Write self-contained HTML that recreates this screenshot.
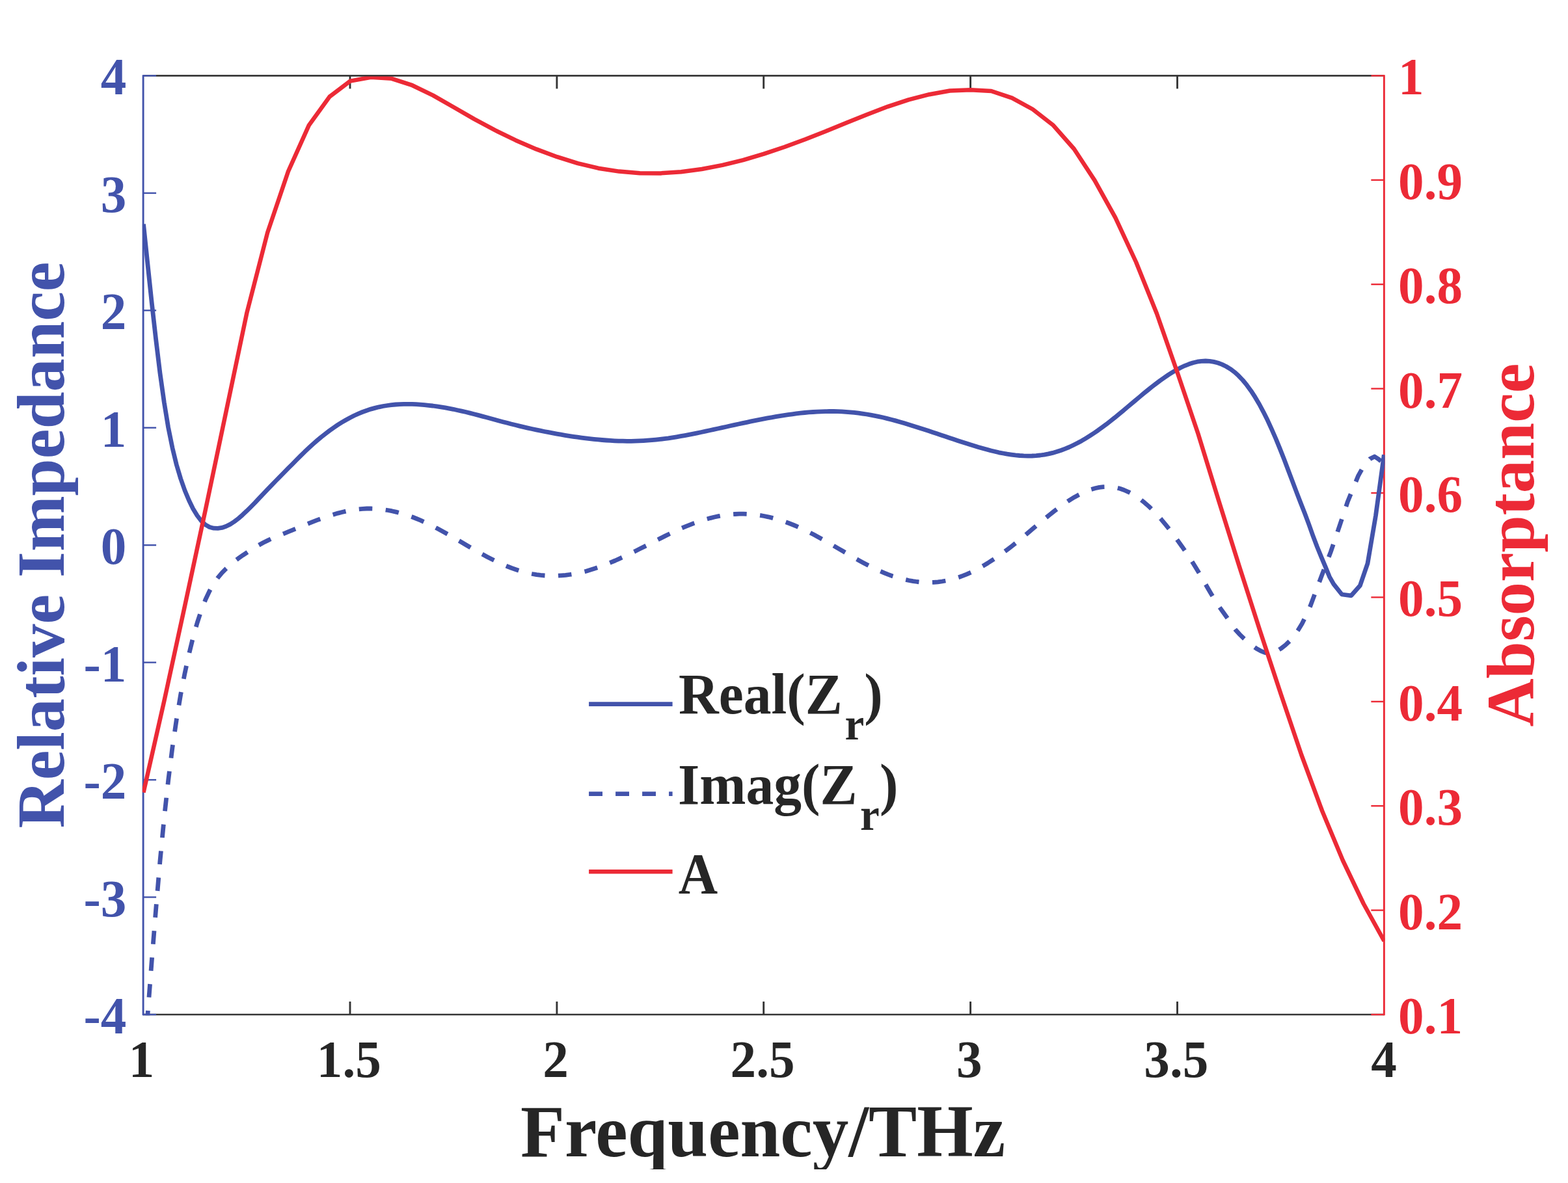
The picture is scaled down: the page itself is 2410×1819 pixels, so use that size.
<!DOCTYPE html>
<html lang="en">
<head>
<meta charset="utf-8">
<title>Relative impedance and absorptance versus frequency</title>
<style>
html,body{margin:0;padding:0;background:#fff;}
body{width:2410px;height:1819px;overflow:hidden;}
svg{display:block;}
text{font-family:"Liberation Serif",serif;font-weight:bold;}
</style>
</head>
<body>
<svg width="2410" height="1819" viewBox="0 0 2410 1819" role="img" aria-label="Relative impedance and absorptance versus frequency">
<rect x="0" y="0" width="2410" height="1819" fill="#ffffff"/>
<defs><clipPath id="plotclip"><rect x="218.9" y="115.2" width="1909.65" height="1446.0"/></clipPath></defs>

<g stroke="#353535" stroke-width="2.4" fill="none" stroke-linecap="butt">
<line x1="220.1" y1="116.4" x2="2127.35" y2="116.4"/>
<line x1="220.1" y1="1560.0" x2="2127.35" y2="1560.0"/>
<line x1="538.0" y1="116.4" x2="538.0" y2="136.4" stroke-width="2.9"/>
<line x1="538.0" y1="1560.0" x2="538.0" y2="1540.0" stroke-width="2.9"/>
<line x1="855.9" y1="116.4" x2="855.9" y2="136.4" stroke-width="2.9"/>
<line x1="855.9" y1="1560.0" x2="855.9" y2="1540.0" stroke-width="2.9"/>
<line x1="1173.7" y1="116.4" x2="1173.7" y2="136.4" stroke-width="2.9"/>
<line x1="1173.7" y1="1560.0" x2="1173.7" y2="1540.0" stroke-width="2.9"/>
<line x1="1491.6" y1="116.4" x2="1491.6" y2="136.4" stroke-width="2.9"/>
<line x1="1491.6" y1="1560.0" x2="1491.6" y2="1540.0" stroke-width="2.9"/>
<line x1="1809.5" y1="116.4" x2="1809.5" y2="136.4" stroke-width="2.9"/>
<line x1="1809.5" y1="1560.0" x2="1809.5" y2="1540.0" stroke-width="2.9"/>
</g>
<g stroke="#4253ab" stroke-width="2.4" fill="none">
<line x1="220.1" y1="115.2" x2="220.1" y2="1561.2" stroke-width="2.9"/>
<line x1="220.1" y1="116.4" x2="240.1" y2="116.4"/>
<line x1="220.1" y1="296.9" x2="240.1" y2="296.9"/>
<line x1="220.1" y1="477.3" x2="240.1" y2="477.3"/>
<line x1="220.1" y1="657.7" x2="240.1" y2="657.7"/>
<line x1="220.1" y1="838.2" x2="240.1" y2="838.2"/>
<line x1="220.1" y1="1018.6" x2="240.1" y2="1018.6"/>
<line x1="220.1" y1="1199.1" x2="240.1" y2="1199.1"/>
<line x1="220.1" y1="1379.5" x2="240.1" y2="1379.5"/>
<line x1="220.1" y1="1560.0" x2="240.1" y2="1560.0"/>
</g>
<g stroke="#ec2a36" stroke-width="2.4" fill="none">
<line x1="2127.35" y1="115.2" x2="2127.35" y2="1561.2" stroke-width="2.9"/>
<line x1="2127.35" y1="116.4" x2="2107.35" y2="116.4"/>
<line x1="2127.35" y1="276.8" x2="2107.35" y2="276.8"/>
<line x1="2127.35" y1="437.2" x2="2107.35" y2="437.2"/>
<line x1="2127.35" y1="597.6" x2="2107.35" y2="597.6"/>
<line x1="2127.35" y1="758.0" x2="2107.35" y2="758.0"/>
<line x1="2127.35" y1="918.4" x2="2107.35" y2="918.4"/>
<line x1="2127.35" y1="1078.8" x2="2107.35" y2="1078.8"/>
<line x1="2127.35" y1="1239.2" x2="2107.35" y2="1239.2"/>
<line x1="2127.35" y1="1399.6" x2="2107.35" y2="1399.6"/>
<line x1="2127.35" y1="1560.0" x2="2107.35" y2="1560.0"/>
</g>
<g fill="none" stroke-linejoin="round" clip-path="url(#plotclip)">
<path d="M220.5,344.5 L226.9,405.6 L233.2,465.1 L239.6,521.5 L245.9,573.3 L252.3,618.8 L258.6,657.1 L265.0,688.7 L271.3,714.6 L277.7,736.0 L284.0,754.0 L290.4,769.3 L296.7,782.3 L303.1,792.8 L309.4,801.0 L315.8,806.9 L322.1,810.5 L328.5,812.2 L334.8,812.4 L341.2,811.4 L347.5,809.3 L353.9,806.1 L360.2,802.0 L366.6,797.1 L372.9,791.6 L379.3,785.6 L385.6,779.3 L392.0,772.8 L398.3,766.1 L404.7,759.4 L411.1,752.7 L417.4,746.1 L423.8,739.5 L430.1,733.1 L436.5,726.7 L442.8,720.2 L449.2,713.8 L455.5,707.4 L461.9,701.0 L468.2,694.8 L474.6,688.8 L480.9,683.0 L487.3,677.4 L493.6,672.1 L500.0,667.1 L506.3,662.3 L512.7,657.7 L519.0,653.4 L525.4,649.4 L531.7,645.7 L538.1,642.2 L544.4,639.0 L550.8,636.1 L557.1,633.5 L563.5,631.2 L569.8,629.1 L576.2,627.4 L582.5,625.8 L588.9,624.5 L595.3,623.5 L601.6,622.6 L608.0,622.0 L614.3,621.6 L620.7,621.4 L627.0,621.3 L633.4,621.4 L639.7,621.7 L646.1,622.1 L652.4,622.6 L658.8,623.3 L665.1,624.0 L671.5,624.9 L677.8,625.9 L684.2,626.9 L690.5,628.1 L696.9,629.3 L703.2,630.7 L709.6,632.1 L715.9,633.5 L722.3,635.1 L728.6,636.7 L735.0,638.4 L741.3,640.1 L747.7,641.8 L754.0,643.5 L760.4,645.3 L766.7,647.0 L773.1,648.7 L779.5,650.3 L785.8,652.0 L792.2,653.5 L798.5,655.1 L804.9,656.6 L811.2,658.1 L817.6,659.5 L823.9,660.9 L830.3,662.2 L836.6,663.5 L843.0,664.7 L849.3,665.9 L855.7,667.1 L862.0,668.2 L868.4,669.3 L874.7,670.3 L881.1,671.3 L887.4,672.2 L893.8,673.1 L900.1,673.9 L906.5,674.6 L912.8,675.3 L919.2,675.9 L925.5,676.5 L931.9,677.0 L938.2,677.4 L944.6,677.8 L950.9,678.1 L957.3,678.2 L963.7,678.3 L970.0,678.3 L976.4,678.1 L982.7,677.9 L989.1,677.6 L995.4,677.2 L1001.8,676.7 L1008.1,676.1 L1014.5,675.4 L1020.8,674.6 L1027.2,673.8 L1033.5,672.8 L1039.9,671.8 L1046.2,670.7 L1052.6,669.6 L1058.9,668.4 L1065.3,667.1 L1071.6,665.8 L1078.0,664.5 L1084.3,663.2 L1090.7,661.8 L1097.0,660.4 L1103.4,659.0 L1109.7,657.6 L1116.1,656.2 L1122.4,654.8 L1128.8,653.4 L1135.2,652.0 L1141.5,650.6 L1147.9,649.3 L1154.2,647.9 L1160.6,646.6 L1166.9,645.3 L1173.3,644.1 L1179.6,642.9 L1186.0,641.8 L1192.3,640.7 L1198.7,639.6 L1205.0,638.6 L1211.4,637.7 L1217.7,636.8 L1224.1,635.9 L1230.4,635.2 L1236.8,634.5 L1243.1,633.9 L1249.5,633.5 L1255.8,633.1 L1262.2,632.8 L1268.5,632.6 L1274.9,632.5 L1281.2,632.5 L1287.6,632.7 L1293.9,632.9 L1300.3,633.3 L1306.6,633.8 L1313.0,634.4 L1319.4,635.2 L1325.7,636.1 L1332.1,637.0 L1338.4,638.1 L1344.8,639.3 L1351.1,640.6 L1357.5,642.0 L1363.8,643.6 L1370.2,645.2 L1376.5,646.9 L1382.9,648.7 L1389.2,650.6 L1395.6,652.5 L1401.9,654.5 L1408.3,656.4 L1414.6,658.5 L1421.0,660.5 L1427.3,662.6 L1433.7,664.7 L1440.0,666.8 L1446.4,668.9 L1452.7,671.0 L1459.1,673.2 L1465.4,675.3 L1471.8,677.4 L1478.1,679.5 L1484.5,681.5 L1490.8,683.6 L1497.2,685.5 L1503.6,687.5 L1509.9,689.3 L1516.3,691.1 L1522.6,692.8 L1529.0,694.3 L1535.3,695.8 L1541.7,697.0 L1548.0,698.2 L1554.4,699.1 L1560.7,699.9 L1567.1,700.5 L1573.4,700.9 L1579.8,701.1 L1586.1,701.0 L1592.5,700.6 L1598.8,700.0 L1605.2,699.1 L1611.5,697.9 L1617.9,696.4 L1624.2,694.6 L1630.6,692.5 L1636.9,690.1 L1643.3,687.5 L1649.6,684.5 L1656.0,681.3 L1662.3,677.9 L1668.7,674.1 L1675.0,670.2 L1681.4,666.0 L1687.8,661.6 L1694.1,657.0 L1700.5,652.3 L1706.8,647.3 L1713.2,642.3 L1719.5,637.1 L1725.9,631.8 L1732.2,626.5 L1738.6,621.2 L1744.9,615.8 L1751.3,610.5 L1757.6,605.2 L1764.0,600.0 L1770.3,594.9 L1776.7,590.0 L1783.0,585.2 L1789.4,580.7 L1795.7,576.4 L1802.1,572.4 L1808.4,568.7 L1814.8,565.3 L1821.1,562.3 L1827.5,559.8 L1833.8,557.7 L1840.2,556.2 L1846.5,555.3 L1852.9,555.0 L1859.2,555.4 L1865.6,556.4 L1872.0,558.0 L1878.3,560.4 L1884.7,563.5 L1891.0,567.3 L1897.4,572.1 L1903.7,577.8 L1910.1,584.5 L1916.4,592.2 L1922.8,600.9 L1929.1,610.7 L1935.5,621.5 L1941.8,633.3 L1948.2,646.1 L1954.5,659.9 L1960.9,674.5 L1967.2,689.9 L1973.6,706.0 L1979.9,722.7 L1986.3,739.6 L1992.6,756.4 L1999.0,773.0 L2005.3,789.1 L2011.7,806.1 L2018.0,823.8 L2024.4,840.7 L2030.7,856.1 L2037.1,871.4 L2043.4,886.8 L2049.8,898.2 L2062.4,914.0 L2076.8,915.8 L2090.3,900.6 L2102.0,866.4 L2114.5,792.7 L2127.3,699.3" stroke="#4253ab" stroke-width="6.8"/>
<path d="M220.5,1646.0 L226.9,1561.2 L233.2,1478.1 L239.6,1398.7 L245.9,1324.7 L252.3,1257.9 L258.7,1199.6 L265.0,1149.2 L271.4,1105.7 L277.7,1067.9 L284.1,1034.9 L290.5,1005.6 L296.8,979.8 L303.2,957.4 L309.5,938.1 L315.9,921.8 L322.3,908.3 L328.6,897.3 L335.0,888.2 L341.3,880.6 L347.7,874.1 L354.1,868.4 L360.4,863.1 L366.8,858.3 L373.1,853.8 L379.5,849.6 L385.8,845.5 L392.2,841.5 L398.6,837.8 L404.9,834.3 L411.3,831.1 L417.6,828.1 L424.0,825.4 L430.4,822.8 L436.7,820.3 L443.1,817.7 L449.4,815.1 L455.8,812.5 L462.2,809.8 L468.5,807.2 L474.9,804.6 L481.2,802.1 L487.6,799.6 L494.0,797.3 L500.3,795.1 L506.7,792.9 L513.0,791.0 L519.4,789.1 L525.8,787.5 L532.1,786.0 L538.5,784.7 L544.8,783.7 L551.2,782.9 L557.6,782.3 L563.9,782.0 L570.3,782.0 L576.6,782.2 L583.0,782.7 L589.4,783.5 L595.7,784.5 L602.1,785.7 L608.4,787.1 L614.8,788.8 L621.2,790.6 L627.5,792.7 L633.9,795.0 L640.2,797.5 L646.6,800.2 L653.0,803.1 L659.3,806.1 L665.7,809.3 L672.0,812.6 L678.4,816.0 L684.7,819.5 L691.1,823.1 L697.5,826.7 L703.8,830.5 L710.2,834.2 L716.5,838.0 L722.9,841.7 L729.3,845.4 L735.6,849.0 L742.0,852.5 L748.3,855.9 L754.7,859.2 L761.1,862.4 L767.4,865.4 L773.8,868.3 L780.1,871.0 L786.5,873.5 L792.9,875.7 L799.2,877.8 L805.6,879.6 L811.9,881.2 L818.3,882.5 L824.7,883.6 L831.0,884.4 L837.4,885.0 L843.7,885.4 L850.1,885.5 L856.5,885.3 L862.8,884.9 L869.2,884.4 L875.5,883.5 L881.9,882.5 L888.3,881.3 L894.6,879.8 L901.0,878.2 L907.3,876.3 L913.7,874.3 L920.1,872.2 L926.4,869.8 L932.8,867.3 L939.1,864.7 L945.5,862.0 L951.9,859.1 L958.2,856.2 L964.6,853.2 L970.9,850.1 L977.3,847.0 L983.6,843.8 L990.0,840.6 L996.4,837.4 L1002.7,834.1 L1009.1,830.8 L1015.4,827.6 L1021.8,824.4 L1028.2,821.2 L1034.5,818.2 L1040.9,815.2 L1047.2,812.3 L1053.6,809.6 L1060.0,807.1 L1066.3,804.6 L1072.7,802.4 L1079.0,800.3 L1085.4,798.4 L1091.8,796.6 L1098.1,795.0 L1104.5,793.7 L1110.8,792.5 L1117.2,791.6 L1123.6,790.9 L1129.9,790.5 L1136.3,790.2 L1142.6,790.2 L1149.0,790.5 L1155.4,790.9 L1161.7,791.6 L1168.1,792.4 L1174.4,793.5 L1180.8,794.8 L1187.2,796.4 L1193.5,798.1 L1199.9,800.0 L1206.2,802.2 L1212.6,804.5 L1219.0,807.0 L1225.3,809.7 L1231.7,812.6 L1238.0,815.6 L1244.4,818.8 L1250.8,822.1 L1257.1,825.5 L1263.5,829.0 L1269.8,832.6 L1276.2,836.2 L1282.5,839.9 L1288.9,843.6 L1295.3,847.3 L1301.6,851.0 L1308.0,854.7 L1314.3,858.4 L1320.7,861.9 L1327.1,865.4 L1333.4,868.8 L1339.8,872.1 L1346.1,875.2 L1352.5,878.1 L1358.9,880.8 L1365.2,883.4 L1371.6,885.7 L1377.9,887.7 L1384.3,889.5 L1390.7,891.1 L1397.0,892.5 L1403.4,893.6 L1409.7,894.5 L1416.1,895.2 L1422.5,895.5 L1428.8,895.6 L1435.2,895.4 L1441.5,894.8 L1447.9,894.0 L1454.3,892.8 L1460.6,891.4 L1467.0,889.7 L1473.3,887.7 L1479.7,885.4 L1486.1,882.8 L1492.4,880.0 L1498.8,876.8 L1505.1,873.4 L1511.5,869.8 L1517.9,866.0 L1524.2,861.9 L1530.6,857.7 L1536.9,853.3 L1543.3,848.7 L1549.7,844.0 L1556.0,839.1 L1562.4,834.0 L1568.7,828.8 L1575.1,823.5 L1581.4,818.1 L1587.8,812.7 L1594.2,807.3 L1600.5,802.0 L1606.9,796.7 L1613.2,791.6 L1619.6,786.5 L1626.0,781.7 L1632.3,777.0 L1638.7,772.5 L1645.0,768.3 L1651.4,764.4 L1657.8,760.9 L1664.1,757.7 L1670.5,754.9 L1676.8,752.6 L1683.2,750.8 L1689.6,749.4 L1695.9,748.6 L1702.3,748.4 L1708.6,748.7 L1715.0,749.7 L1721.4,751.3 L1727.7,753.5 L1734.1,756.3 L1740.4,759.7 L1746.8,763.7 L1753.2,768.2 L1759.5,773.2 L1765.9,778.8 L1772.2,784.9 L1778.6,791.6 L1785.0,798.8 L1791.3,806.4 L1797.7,814.4 L1804.0,822.8 L1810.4,831.5 L1816.8,840.4 L1823.1,849.6 L1829.5,859.2 L1835.8,869.2 L1842.2,879.7 L1848.6,890.6 L1854.9,901.7 L1861.3,912.7 L1867.6,923.3 L1874.0,933.0 L1880.3,941.8 L1886.7,950.8 L1893.1,960.3 L1899.4,968.9 L1905.8,975.9 L1912.1,982.0 L1918.5,987.6 L1924.9,992.7 L1931.2,997.2 L1937.6,1000.8 L1943.9,1003.4 L1950.3,1004.6 L1956.7,1003.7 L1963.0,1000.8 L1969.4,996.8 L1975.7,991.9 L1982.1,985.8 L1988.5,978.3 L1994.8,969.5 L2001.2,959.0 L2007.5,946.3 L2013.9,932.0 L2031.0,886.2 L2045.4,848.4 L2058.8,808.9 L2071.4,771.2 L2087.6,731.6 L2096.6,715.5 L2105.6,705.6 L2112.7,702.0 L2119.0,706.1 L2127.3,713.0" stroke="#4253ab" stroke-width="6.8" stroke-dasharray="20.55 20.52" stroke-dashoffset="10.5"/>
<path d="M220.5,1218.5 L252.3,1078.0 L284.1,931.5 L315.9,783.5 L347.6,632.5 L379.4,481.0 L411.2,357.5 L443.0,263.5 L474.8,192.6 L506.6,148.6 L538.3,124.6 L570.1,118.8 L601.9,120.8 L633.7,131.2 L665.5,146.6 L697.2,164.7 L729.0,183.1 L760.8,200.2 L792.6,215.7 L824.4,229.4 L856.2,241.2 L888.0,251.1 L919.7,258.7 L951.5,263.6 L983.3,266.3 L1015.1,266.4 L1046.9,264.3 L1078.7,260.0 L1110.4,253.9 L1142.2,246.1 L1174.0,236.7 L1205.8,226.0 L1237.6,214.3 L1269.4,201.7 L1301.1,188.7 L1332.9,175.9 L1364.7,163.8 L1396.5,153.3 L1428.3,145.2 L1460.0,139.5 L1491.8,138.3 L1523.6,140.0 L1555.4,150.6 L1587.2,168.0 L1619.0,192.8 L1650.8,229.0 L1682.5,277.4 L1714.3,334.6 L1746.1,403.0 L1777.9,482.0 L1809.7,573.0 L1841.5,667.0 L1873.2,770.0 L1905.0,871.5 L1936.8,970.5 L1968.6,1067.0 L2000.4,1161.0 L2032.2,1247.0 L2063.9,1323.0 L2095.7,1389.5 L2127.5,1447.0" stroke="#ec2a36" stroke-width="6.5"/>
</g>
<line x1="240.1" y1="116.4" x2="2107.35" y2="116.4" stroke="#353535" stroke-width="2.4"/>
<g>
<text transform="translate(194.40,145.40) scale(0.9940,1)" font-size="79.6" fill="#4253ab" text-anchor="end">4</text>
<text transform="translate(194.40,325.85) scale(0.9940,1)" font-size="79.6" fill="#4253ab" text-anchor="end">3</text>
<text transform="translate(194.40,506.30) scale(0.9940,1)" font-size="79.6" fill="#4253ab" text-anchor="end">2</text>
<text transform="translate(194.40,686.75) scale(0.9940,1)" font-size="79.6" fill="#4253ab" text-anchor="end">1</text>
<text transform="translate(194.40,867.20) scale(0.9940,1)" font-size="79.6" fill="#4253ab" text-anchor="end">0</text>
<text transform="translate(194.40,1047.65) scale(0.9940,1)" font-size="79.6" fill="#4253ab" text-anchor="end">-1</text>
<text transform="translate(194.40,1228.10) scale(0.9940,1)" font-size="79.6" fill="#4253ab" text-anchor="end">-2</text>
<text transform="translate(194.40,1408.55) scale(0.9940,1)" font-size="79.6" fill="#4253ab" text-anchor="end">-3</text>
<text transform="translate(194.40,1589.00) scale(0.9940,1)" font-size="79.6" fill="#4253ab" text-anchor="end">-4</text>
<text transform="translate(2149.10,145.40) scale(0.9940,1)" font-size="79.6" fill="#ec2a36" text-anchor="start">1</text>
<text transform="translate(2149.10,305.80) scale(0.9940,1)" font-size="79.6" fill="#ec2a36" text-anchor="start">0.9</text>
<text transform="translate(2149.10,466.20) scale(0.9940,1)" font-size="79.6" fill="#ec2a36" text-anchor="start">0.8</text>
<text transform="translate(2149.10,626.60) scale(0.9940,1)" font-size="79.6" fill="#ec2a36" text-anchor="start">0.7</text>
<text transform="translate(2149.10,787.00) scale(0.9940,1)" font-size="79.6" fill="#ec2a36" text-anchor="start">0.6</text>
<text transform="translate(2149.10,947.40) scale(0.9940,1)" font-size="79.6" fill="#ec2a36" text-anchor="start">0.5</text>
<text transform="translate(2149.10,1107.80) scale(0.9940,1)" font-size="79.6" fill="#ec2a36" text-anchor="start">0.4</text>
<text transform="translate(2149.10,1268.20) scale(0.9940,1)" font-size="79.6" fill="#ec2a36" text-anchor="start">0.3</text>
<text transform="translate(2149.10,1428.60) scale(0.9940,1)" font-size="79.6" fill="#ec2a36" text-anchor="start">0.2</text>
<text transform="translate(2149.10,1589.00) scale(0.9940,1)" font-size="79.6" fill="#ec2a36" text-anchor="start">0.1</text>
<text transform="translate(217.50,1656.30) scale(0.9940,1)" font-size="79.6" fill="#262626" text-anchor="middle">1</text>
<text transform="translate(536.27,1656.30) scale(0.9940,1)" font-size="79.6" fill="#262626" text-anchor="middle">1.5</text>
<text transform="translate(854.05,1656.30) scale(0.9940,1)" font-size="79.6" fill="#262626" text-anchor="middle">2</text>
<text transform="translate(1172.02,1656.30) scale(0.9940,1)" font-size="79.6" fill="#262626" text-anchor="middle">2.5</text>
<text transform="translate(1489.90,1656.30) scale(0.9940,1)" font-size="79.6" fill="#262626" text-anchor="middle">3</text>
<text transform="translate(1807.77,1656.30) scale(0.9940,1)" font-size="79.6" fill="#262626" text-anchor="middle">3.5</text>
<text transform="translate(2127.05,1656.30) scale(0.9940,1)" font-size="79.6" fill="#262626" text-anchor="middle">4</text>
</g>
<defs><clipPath id="xlclip"><rect x="0" y="1600" width="2410" height="198"/></clipPath></defs>
<g clip-path="url(#xlclip)"><text transform="translate(800.00,1778.20) scale(0.9750,1)" font-size="114.0" fill="#262626" text-anchor="start">Frequency/THz</text></g>
<text transform="translate(98.10,1273.60) rotate(-90) scale(0.9890,1)" font-size="104.0" fill="#4253ab" text-anchor="start">Relative Impedance</text>
<text transform="translate(2356.90,1117.60) rotate(-90) scale(0.9920,1)" font-size="103.5" fill="#ec2a36" text-anchor="start">Absorptance</text>
<g fill="none">
<line x1="905.1" y1="1082.7" x2="1033.6" y2="1082.7" stroke="#4253ab" stroke-width="6.8"/>
<line x1="905.1" y1="1220.6" x2="1033.6" y2="1220.6" stroke="#4253ab" stroke-width="6.8" stroke-dasharray="20.9 20.1"/>
<line x1="905.1" y1="1340.2" x2="1033.6" y2="1340.2" stroke="#ec2a36" stroke-width="6.5"/>
</g>
<g>
<text transform="translate(1043.00,1096.80) scale(0.9720,1)" font-size="88" fill="#262626" text-anchor="start">Real(Z<tspan x="262.86" y="39.9" font-size="69">r</tspan><tspan x="293.52" y="0">)</tspan></text>
<text transform="translate(1042.00,1235.60) scale(0.9720,1)" font-size="88" fill="#262626" text-anchor="start">Imag(Z<tspan x="288.17" y="39.9" font-size="69">r</tspan><tspan x="318.83" y="0">)</tspan></text>
<text transform="translate(1042.70,1373.00) scale(0.9400,1)" font-size="89" fill="#262626" text-anchor="start">A</text>
</g>
</svg>
</body>
</html>
